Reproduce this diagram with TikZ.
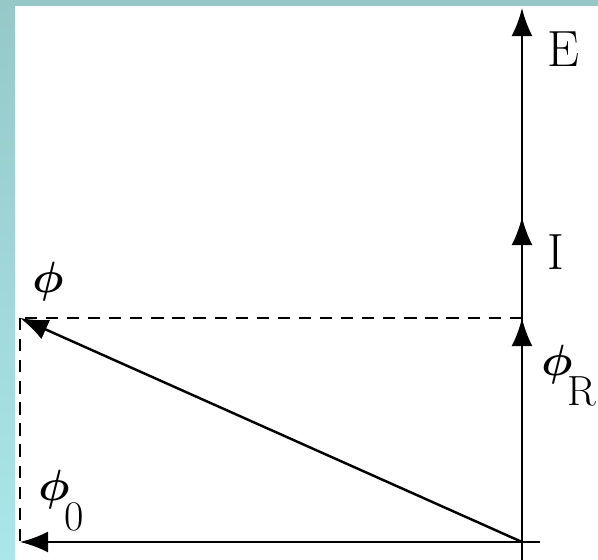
\documentclass[tikz,border=0pt]{standalone}
\usepackage{amsmath}
\usetikzlibrary{arrows.meta}
\definecolor{frametop}{RGB}{150,200,200}
\definecolor{framebot}{RGB}{170,230,236}
\tikzset{vec/.style={line width=1.4pt, -{Latex[length=16pt,width=12pt]}},
  guide/.style={line width=1.4pt, dash pattern=on 7pt off 5pt},
  lab/.style={anchor=base west, inner sep=0pt}}
\newcommand{\flux}{{\fontsize{35}{40}\selectfont$\boldsymbol{\phi}$}}
\newcommand{\dropsub}[1]{\kern-3pt\raisebox{-17pt}{\fontsize{24}{28}\selectfont #1}}

\begin{document}
\begin{tikzpicture}[x=0.02cm,y=0.02cm,font=\fontsize{29}{34}\selectfont]
% frame and canvas
\shade[top color=frametop, bottom color=framebot] (-522,-18) rectangle (76,542);
\fill[white] (-507,-18) rectangle (76,536);
\useasboundingbox (-522,-18) rectangle (76,542);
% phasor tips
\coordinate (O) at (0,0);
\coordinate (Etip) at (0,534);
\coordinate (Itip) at (0,325);
\coordinate (PRtip) at (0,224);
\coordinate (P0tip) at (-502,0);
\coordinate (Ptip) at (-502,224);
\coordinate (Xend) at (18,0);
\coordinate (Yend) at (0,-18);
% construction lines
\draw[guide] (PRtip) -- (Ptip);
\draw[guide] (Ptip) -- (P0tip);
% phasors
\draw[line width=1.4pt] (Yend) -- (O);
\draw[vec] (O) -- (Etip);
\draw[vec] (O) -- (Itip);
\draw[vec] (O) -- (PRtip);
\draw[vec] (Xend) -- (P0tip);
\draw[vec] (O) -- (Ptip);
% labels
\node[lab] (Elab) at (25,475) {E};
\node[lab] (Ilab) at (25,272) {I};
\node[lab] (PRlab) at (19,166) {\flux\dropsub{R}};
\node[lab] (Plab) at (-490,249) {\flux};
\node[lab] (P0lab) at (-484,41) {\flux\dropsub{0}};
\end{tikzpicture}
\end{document}
